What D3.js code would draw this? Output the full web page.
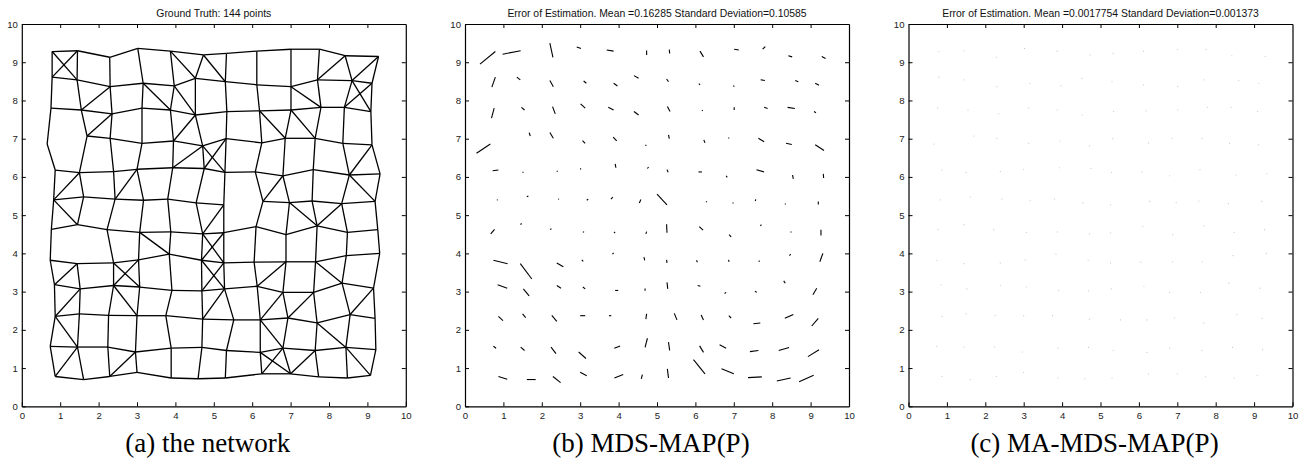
<!DOCTYPE html>
<html>
<head>
<meta charset="utf-8">
<script src="https://cdn.jsdelivr.net/npm/d3@7"></script>
<style>
  body { margin: 0; background: #fff; }
  .tick text { font-family: "Liberation Sans", Arial, sans-serif; font-size: 9.6px; fill: #222; }
  .domain, .tick line { stroke: #000; }
</style>
</head>
<body>
<svg id="chart" width="1310" height="464"></svg>
<script>
/// data ///
// true sensor positions, 12 rows (bottom to top) x 12 columns
const truthRows = [
  [[0.87,0.78],[1.61,0.70],[2.29,0.78],[3.00,0.89],[3.89,0.74],[4.59,0.72],[5.30,0.74],[6.25,0.85],[7.00,0.85],[7.73,0.77],[8.48,0.74],[9.08,0.81]],
  [[0.74,1.57],[1.45,1.55],[2.24,1.55],[2.96,1.42],[3.89,1.52],[4.69,1.54],[5.33,1.46],[6.21,1.41],[6.80,1.52],[7.64,1.46],[8.44,1.54],[9.22,1.48]],
  [[0.87,2.35],[1.50,2.42],[2.26,2.38],[3.00,2.37],[3.75,2.37],[4.71,2.28],[5.52,2.26],[6.21,2.26],[6.93,2.31],[7.69,2.18],[8.55,2.40],[9.20,2.30]],
  [[0.85,3.18],[1.52,3.07],[2.39,3.16],[3.07,3.12],[3.91,3.03],[4.69,3.02],[5.28,3.07],[6.13,3.14],[6.80,2.98],[7.60,2.98],[8.34,3.22],[9.16,3.09]],
  [[0.74,3.82],[1.44,3.73],[2.39,3.75],[3.04,3.83],[3.84,3.98],[4.68,3.82],[5.26,3.75],[6.05,3.77],[6.88,3.78],[7.65,3.78],[8.45,3.94],[9.32,4.00]],
  [[0.77,4.63],[1.45,4.75],[2.22,4.62],[3.07,4.55],[3.88,4.56],[4.71,4.51],[5.26,4.54],[6.10,4.70],[6.88,4.49],[7.69,4.72],[8.48,4.55],[9.27,4.62]],
  [[0.83,5.40],[1.61,5.48],[2.43,5.42],[3.17,5.39],[3.80,5.42],[4.54,5.32],[5.26,5.27],[6.28,5.36],[6.97,5.33],[7.56,5.37],[8.33,5.30],[9.20,5.36]],
  [[0.87,6.18],[1.50,6.11],[2.39,6.14],[3.00,6.20],[3.93,6.24],[4.75,6.22],[5.29,6.12],[6.08,6.13],[6.80,6.03],[7.59,6.19],[8.53,6.05],[9.33,6.08]],
  [[0.66,6.86],[1.70,7.07],[2.30,7.01],[3.13,6.88],[3.95,6.94],[4.71,6.81],[5.32,7.00],[6.25,6.89],[6.86,7.01],[7.64,7.01],[8.36,6.88],[9.12,6.84]],
  [[0.76,7.80],[1.55,7.75],[2.35,7.65],[3.13,7.80],[3.87,7.75],[4.52,7.62],[5.34,7.71],[6.19,7.73],[7.01,7.75],[7.79,7.82],[8.40,7.82],[9.09,7.71]],
  [[0.79,8.61],[1.44,8.54],[2.30,8.36],[3.16,8.45],[3.97,8.38],[4.52,8.58],[5.30,8.49],[6.12,8.41],[7.01,8.36],[7.70,8.54],[8.60,8.52],[9.12,8.45]],
  [[0.79,9.28],[1.45,9.30],[2.29,9.13],[3.02,9.36],[3.87,9.29],[4.73,9.19],[5.33,9.23],[6.12,9.29],[7.01,9.34],[7.75,9.34],[8.42,9.17],[9.29,9.15]]
];

// MDS-MAP(P) estimation error (dx, dy), same order as truthRows
const mdsErrRows = [
  [[.23,-.07],[.23,0],[.20,-.16],[.17,-.09],[.23,.09],[.03,.11],[-.03,.24],[-.30,.37],[-.32,.13],[-.36,-.02],[-.36,-.08],[-.38,-.17]],
  [[.07,-.05],[.10,-.09],[.13,-.17],[.19,-.17],[.15,.06],[.06,.24],[-.03,.22],[-.10,.17],[-.17,.09],[-.22,-.03],[-.27,-.08],[-.29,-.18]],
  [[.12,-.11],[.08,-.10],[.13,-.16],[.13,0],[.06,0],[.02,.14],[-.07,.17],[-.06,.13],[-.06,.06],[-.18,-.02],[-.22,-.10],[-.17,-.20]],
  [[.25,-.09],[.15,-.18],[.11,-.07],[.06,-.05],[.08,0],[0,.06],[-.02,.17],[-.07,.02],[-.04,-.03],[-.05,.03],[-.04,.06],[-.10,-.17]],
  [[.37,-.09],[.30,-.40],[.17,-.10],[.04,-.04],[.03,.03],[-.02,.08],[-.01,.08],[-.02,.05],[-.02,.05],[.02,.03],[.03,.04],[-.08,-.22]],
  [[-.10,-.12],[.02,.04],[.03,.03],[.03,.02],[.03,-.03],[.02,.06],[-.01,.22],[.10,-.09],[.05,-.06],[.03,.03],[.02,.02],[0,-.15]],
  [[.02,0],[.04,.02],[.02,0],[.04,.03],[.05,.05],[.04,.09],[-.26,.28],[.02,-.02],[.02,-.02],[.01,.04],[.02,-.02],[0,-.08]],
  [[-.15,-.02],[.02,.02],[.02,.02],[.02,.02],[-.02,.10],[.03,.04],[-.03,.07],[.09,0],[.03,-.04],[.20,-.06],[.02,-.10],[.01,-.11]],
  [[-.36,-.24],[-.03,.09],[-.09,.15],[-.07,.07],[-.09,.10],[0,.03],[-.02,.10],[-.03,.08],[.02,.02],[.15,-.09],[.15,-.03],[.23,-.15]],
  [[-.07,-.26],[-.08,.07],[-.07,.19],[-.12,.11],[-.14,.07],[-.12,.09],[-.07,.13],[-.02,.02],[0,.07],[.09,-.03],[.19,-.03],[.05,-.03]],
  [[-.09,-.26],[-.09,.07],[-.09,.16],[-.07,.06],[-.10,.07],[-.12,.07],[-.05,.07],[-.03,.03],[-.02,.03],[.11,-.02],[.08,-.03],[.10,-.05]],
  [[-.40,-.33],[-.47,-.09],[-.08,.37],[-.11,.04],[-.18,.03],[0,.12],[-.01,.10],[.09,-.15],[.12,-.02],[.07,.07],[.10,-.03],[.10,-.05]]
];

const radioRange = 1.0;     // neighbours closer than this are linked
const tickVals = [0,1,2,3,4,5,6,7,8,9,10];
const titles = [
  'Ground Truth: 144 points',
  'Error of Estimation. Mean =0.16285 Standard Deviation=0.10585',
  'Error of Estimation. Mean =0.0017754 Standard Deviation=0.001373'
];
const captions = ['(a) the network', '(b) MDS-MAP(P)', '(c) MA-MDS-MAP(P)'];

/// layout ///
const panelLeft = [21.8, 465, 908.5];
const plotW = 384;
const yTop = 24, yBottom = 406.3;

const svg = d3.select('#chart');

const truth = truthRows.flat();
const mdsErr = mdsErrRows.flat();

// links of the unit-disk graph
let links = [];
for (let i = 0; i < truth.length; i++) {
  for (let j = i + 1; j < truth.length; j++) {
    let d = Math.hypot(truth[i][0] - truth[j][0], truth[i][1] - truth[j][1]);
    if (d < radioRange) links.push([truth[i], truth[j]]);
  }
}

let yScale = d3.scaleLinear().domain([0, 10]).range([yBottom, yTop]);

panelLeft.forEach((left, p) => {

  let xScale = d3.scaleLinear().domain([0, 10]).range([left, left + plotW]);
  let g = svg.append('g');

  // matlab style box with inward ticks
  g.append('g')
      .attr('transform', 'translate(0,' + yBottom + ')')
      .call(d3.axisBottom(xScale).tickValues(tickVals).tickSize(-4).tickSizeOuter(0).tickPadding(5.5));
  g.append('g')
      .attr('transform', 'translate(0,' + yTop + ')')
      .call(d3.axisTop(xScale).tickValues(tickVals.slice(1, -1)).tickSize(-4).tickSizeOuter(0).tickFormat(''));
  g.append('g')
      .attr('transform', 'translate(' + left + ',0)')
      .call(d3.axisLeft(yScale).tickValues(tickVals).tickSize(-4).tickSizeOuter(0).tickPadding(4));
  g.append('g')
      .attr('transform', 'translate(' + (left + plotW) + ',0)')
      .call(d3.axisRight(yScale).tickValues(tickVals.slice(1, -1)).tickSize(-4).tickSizeOuter(0).tickFormat(''));
  g.selectAll('.domain').attr('stroke-width', 1.2);

  g.append('text')
      .attr('x', left + plotW / 2)
      .attr('y', 16.5)
      .attr('text-anchor', 'middle')
      .style('font-family', '"Liberation Sans", Arial, sans-serif')
      .style('font-size', '10.4px')
      .attr('fill', '#111')
      .text(titles[p]);

  g.append('text')
      .attr('x', left + plotW / 2 - 6)
      .attr('y', 452)
      .attr('text-anchor', 'middle')
      .style('font-family', '"Liberation Serif", "Times New Roman", serif')
      .style('font-size', '27px')
      .attr('fill', '#000')
      .text(captions[p]);

  if (p === 0) {
    g.selectAll('line.link')
      .data(links)
      .enter()
      .append('line')
      .attr('class', 'link')
      .attr('x1', d => xScale(d[0][0]))
      .attr('y1', d => yScale(d[0][1]))
      .attr('x2', d => xScale(d[1][0]))
      .attr('y2', d => yScale(d[1][1]))
      .attr('stroke', '#000')
      .attr('stroke-width', 1.3);
  } else if (p === 1) {
    g.selectAll('line.err')
      .data(truth)
      .enter()
      .append('line')
      .attr('class', 'err')
      .attr('x1', d => xScale(d[0]))
      .attr('y1', d => yScale(d[1]))
      .attr('x2', (d, i) => xScale(d[0] + mdsErr[i][0]))
      .attr('y2', (d, i) => yScale(d[1] + mdsErr[i][1]))
      .attr('stroke', '#000')
      .attr('stroke-width', 1.1);
  } else {
    // errors here are ~0.002, so they show only as specks
    g.selectAll('circle.err')
      .data(truth)
      .enter()
      .append('circle')
      .attr('class', 'err')
      .attr('cx', d => xScale(d[0]))
      .attr('cy', d => yScale(d[1]))
      .attr('r', 0.6)
      .attr('fill', '#c8c8c8');
  }
});
</script>
</body>
</html>
